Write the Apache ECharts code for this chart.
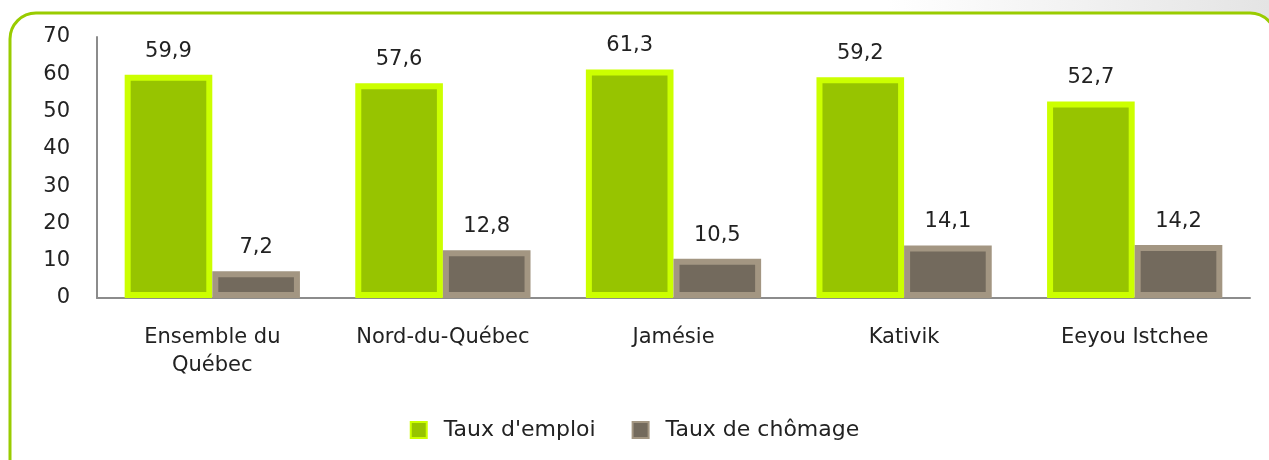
<!DOCTYPE html>
<html><head><meta charset="utf-8">
<script src="https://cdn.jsdelivr.net/npm/echarts@6/dist/echarts.min.js"></script>
<style>html,body{margin:0;padding:0;background:#fff;}#c{width:1269px;height:460px;}</style>
</head><body><div id="c"></div>
<script>
const categories = ['Ensemble du\nQuébec', 'Nord-du-Québec', 'Jamésie', 'Kativik', 'Eeyou Istchee'];
const emploi = [59.9, 57.6, 61.3, 59.2, 52.7];
const chomage = [7.2, 12.8, 10.5, 14.1, 14.2];
const seriesNames = ["Taux d'emploi", 'Taux de chômage'];
const yTicks = {min: 0, max: 70, interval: 10};

const font = '"DejaVu Sans", sans-serif';
const fs = 21;
const chart = echarts.init(document.getElementById('c'));
const fmt = p => String(p.value).replace('.', ',');
chart.setOption({
  animation: false,
  graphic: [
    {type: 'rect', z: -10, shape: {x: 0, y: 0, width: 1269, height: 460},
     style: {fill: new echarts.graphic.LinearGradient(0, 0, 1, 0, [{offset: 0, color: '#ffffff'}, {offset: 0.7, color: '#ffffff'}, {offset: 1, color: '#e4e4e4'}])}},
    {type: 'rect', z: -9, shape: {x: 10, y: 13, width: 1266, height: 480, r: 26},
     style: {fill: '#ffffff', stroke: '#99cc00', lineWidth: 3}}
  ],
  grid: {left: 97, right: 19, top: 37, bottom: 162},
  legend: {
    bottom: 14, left: 'center', icon: 'rect', itemWidth: 16, itemHeight: 16, itemGap: 36,
    textStyle: {fontFamily: font, fontSize: 22, color: '#222', padding: [0, 0, 0, 12]},
    data: seriesNames
  },
  xAxis: {
    type: 'category', data: categories,
    axisLine: {lineStyle: {color: '#8c8c8c', width: 2}},
    axisTick: {show: false},
    axisLabel: {fontFamily: font, fontSize: fs, color: '#222', margin: 26, lineHeight: 28, interval: 0}
  },
  yAxis: {
    type: 'value', min: yTicks.min, max: yTicks.max, interval: yTicks.interval,
    axisLine: {show: true, lineStyle: {color: '#8c8c8c', width: 2}},
    axisTick: {show: false},
    splitLine: {show: false},
    axisLabel: {fontFamily: font, fontSize: fs, color: '#222', margin: 27}
  },
  series: [
    {name: seriesNames[0], type: 'bar', data: emploi, barGap: '0%', barCategoryGap: '24%',
     itemStyle: {color: '#97c400', borderColor: '#ccff00', borderWidth: 6},
     label: {show: true, position: 'top', distance: 13, formatter: fmt, fontFamily: font, fontSize: fs, color: '#222'}},
    {name: seriesNames[1], type: 'bar', data: chomage,
     itemStyle: {color: '#736a5d', borderColor: '#a39682', borderWidth: 6},
     label: {show: true, position: 'top', distance: 13, formatter: fmt, fontFamily: font, fontSize: fs, color: '#222'}}
  ]
});
</script></body></html>
